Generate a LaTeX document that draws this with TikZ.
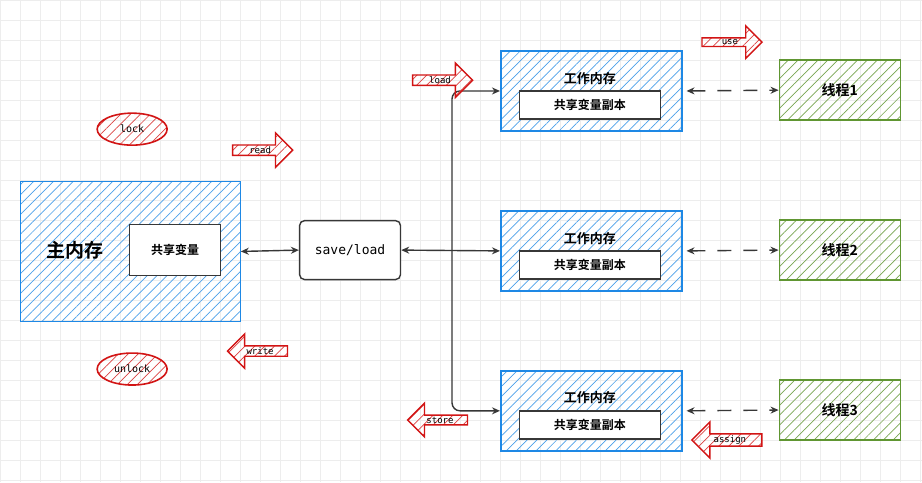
\documentclass[tikz,border=0pt]{standalone}
\usepackage{fontspec}
\setmainfont{Noto Sans CJK SC}[BoldFont={Noto Sans CJK SC Bold}]
\newfontfamily\codefont{DejaVu Sans Mono}
\definecolor{MemBlue}{RGB}{30, 136, 229}
\definecolor{ThreadGreen}{RGB}{96, 150, 50}
\definecolor{OpRed}{RGB}{210, 20, 20}
\definecolor{LineGray}{RGB}{55, 55, 55}
\usetikzlibrary{arrows.meta, positioning, shapes, shapes.arrows, patterns.meta}

\begin{document}
\begin{tikzpicture}[
        x=1pt, y=-1pt,
        hatch/.style={pattern={Lines[angle=45, distance=7pt, line width=0.7pt]}, pattern color=#1},
        mem/.style={rectangle, draw=MemBlue, line width=1.6pt, hatch=MemBlue!80, anchor=north west},
        thread/.style={rectangle, draw=ThreadGreen, line width=1.6pt, hatch=ThreadGreen!85, font=\bfseries\fontsize{14}{16}\selectfont},
        var/.style={rectangle, draw=LineGray, fill=white, line width=1.4pt, font=\bfseries\fontsize{12}{14}\selectfont},
        op/.style={single arrow, draw=OpRed, line width=1.4pt, hatch=OpRed!80, minimum height=60pt, minimum width=14pt, single arrow head extend=12pt, inner sep=1pt, font=\codefont\fontsize{9}{10}\selectfont},
        opleft/.style={op, shape border rotate=180},
        lock/.style={ellipse, draw=OpRed, line width=1.6pt, hatch=OpRed!80, minimum width=70pt, minimum height=32pt, font=\codefont\fontsize{10}{12}\selectfont},
        tip/.style={Stealth[open, length=8pt, width=7pt]},
        line/.style={draw=LineGray, line width=1.4pt, -{Stealth[open, length=8pt, width=7pt]}},
        both/.style={line, {Stealth[open, length=8pt, width=7pt]}-{Stealth[open, length=8pt, width=7pt]}},
        dline/.style={both, dash pattern=on 14pt off 12pt}
    ]
        % background grid
        \fill[white] (0,0) rectangle (922,482);
        \foreach \gx in {0,20,...,920} \draw[black!7] (\gx,0) -- (\gx,482);
        \foreach \gy in {0,20,...,480} \draw[black!7] (0,\gy) -- (922,\gy);
        \useasboundingbox (0,0) rectangle (922,482);

        % main memory
        \node[mem, minimum width=220pt, minimum height=140pt] (main) at (20,181) {};
        \node[font=\bfseries\fontsize{19}{22}\selectfont] (mainlbl) at (75,250) {主内存};
        \node[var, minimum width=91pt, minimum height=51pt] (shared) at (175,250) {共享变量};
        \node[draw=LineGray, line width=1.4pt, rounded corners=5pt, fill=white, minimum width=101pt, minimum height=59pt, font=\codefont\fontsize{13}{15}\selectfont] (sl) at (350,250) {save/load};

        % working memories
        \foreach \i/\y in {1/50, 2/210, 3/370} {
            \node[mem, minimum width=181pt, minimum height=80pt] (w\i) at (500,\y) {};
            \node[font=\bfseries\fontsize{13}{15}\selectfont] (wl\i) at (590,\y+28) {工作内存};
            \node[var, minimum width=141pt, minimum height=28pt] (c\i) at (590,\y+55) {共享变量副本};
            \node[thread, minimum width=121pt, minimum height=60pt] (t\i) at (840,\y+40) {线程\i};
            \draw[dline] (w\i.east) ++(4,0) coordinate (we\i) -- (t\i.west);
        }

        % connectors
        \coordinate (junc) at (452,250);
        \draw[both] (sl.west) -- (main.east);
        \draw[both] (sl.east) -- (w2.west);
        \draw[line, rounded corners=8pt] (junc) |- (w1.west);
        \draw[line, rounded corners=8pt] (junc) |- (w3.west);

        % operations
        \node[lock] (lock) at (132,129) {lock};
        \node[lock] (unlock) at (132,369) {unlock};
        \node[op] (read) at (260,150) {read};
        \node[opleft] (write) at (260,351) {write};
        \node[op] (load) at (440,80) {load};
        \node[opleft] (store) at (440,420) {store};
        \node[op] (use) at (730,42) {use};
        \node[opleft, minimum height=70pt] (assign) at (730,440) {assign};
    \end{tikzpicture}
\end{document}
